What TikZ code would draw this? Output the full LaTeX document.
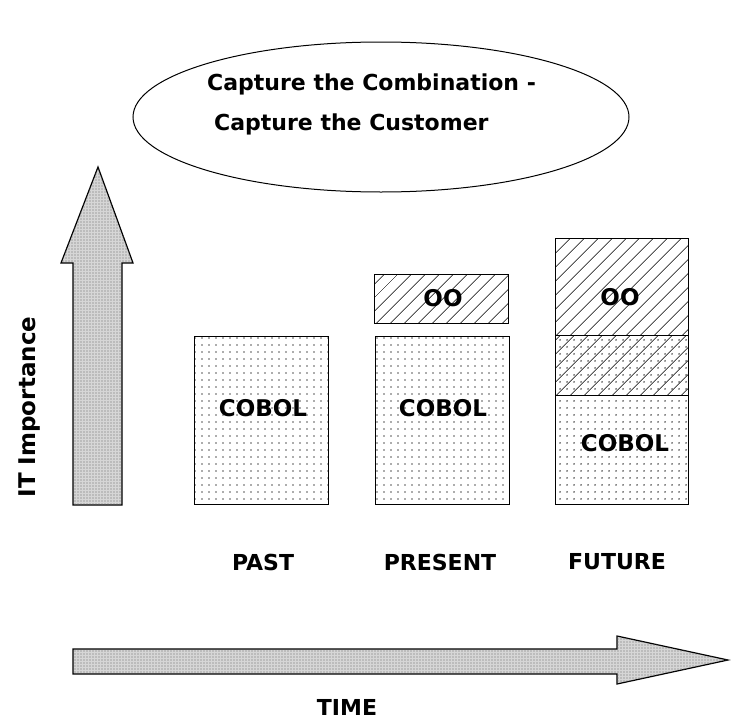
\documentclass[tikz,border=0pt]{standalone}
\usepackage{fontspec}
\setmainfont{DejaVu Sans}
\usetikzlibrary{shapes.geometric,patterns.meta}
\begin{document}
\begin{tikzpicture}[x=1pt,y=-1pt,
      dotfill/.style={pattern={Dots[distance=6.5pt,radius=1pt,xshift=1pt]},pattern color=black!65},
      hatchfill/.style={pattern={Lines[angle=45,distance=10.5pt,line width=0.9pt]},pattern color=black},
      bigarrow/.style={draw,line width=1.2pt,fill=black!16,
        postaction={pattern={Dots[distance=3pt,radius=0.65pt]},pattern color=black!60}},
      era/.style={draw,line width=1pt,inner sep=0pt,minimum width=134},
      boxtext/.style={font=\fontsize{23}{23}\selectfont\bfseries},
      axistext/.style={font=\fontsize{22}{22}\selectfont\bfseries}]
      \useasboundingbox (0,0) rectangle (731,720);
      \draw
        (381,117) node[ellipse,draw,line width=1pt,minimum width=496,minimum height=150] (slogan){}
        (207,104) node[anchor=west,inner sep=0pt,align=left,
          font=\fontsize{22}{40}\selectfont\bfseries] (slogantext)
          {Capture the Combination -\\\hspace{7pt}Capture the Customer};
      \begin{scope}
        \draw[bigarrow] (73,505) -- (73,263) -- (61,263) -- (98,167) -- (133,263)
          -- (122,263) -- (122,505) -- cycle;
        \draw[bigarrow] (73,649) -- (617,649) -- (617,636) -- (728,660) -- (617,684)
          -- (617,674) -- (73,674) -- cycle;
      \end{scope}
      \draw
        (261,420) node[era,dotfill,minimum height=168] (pastbox){}
        (442,420) node[era,dotfill,minimum height=168] (presentbox){}
        (441,299) node[era,hatchfill,minimum height=49] (presentoo){}
        (622,287) node[era,hatchfill,minimum width=133,minimum height=97] (futureoo){}
        (622,365) node[era,dotfill,postaction={hatchfill},minimum width=133,minimum height=60] (futuremix){}
        (622,450) node[era,dotfill,minimum width=133,minimum height=109] (futurebox){};
      \draw
        (263,408) node[boxtext] (pastcobol){COBOL}
        (443,408) node[boxtext] (presentcobol){COBOL}
        (443,298) node[boxtext] (presentootext){OO}
        (620,297) node[boxtext] (futureootext){OO}
        (625,443) node[boxtext] (futurecobol){COBOL};
      \draw
        (263,562) node[axistext] (past){PAST}
        (440,562) node[axistext] (present){PRESENT}
        (617,562) node[axistext] (future){FUTURE}
        (347,707) node[axistext] (time){TIME}
        (30,407) node[axistext,rotate=90,font=\fontsize{23}{23}\selectfont\bfseries] (importance){IT Importance};
    \end{tikzpicture}
\end{document}
